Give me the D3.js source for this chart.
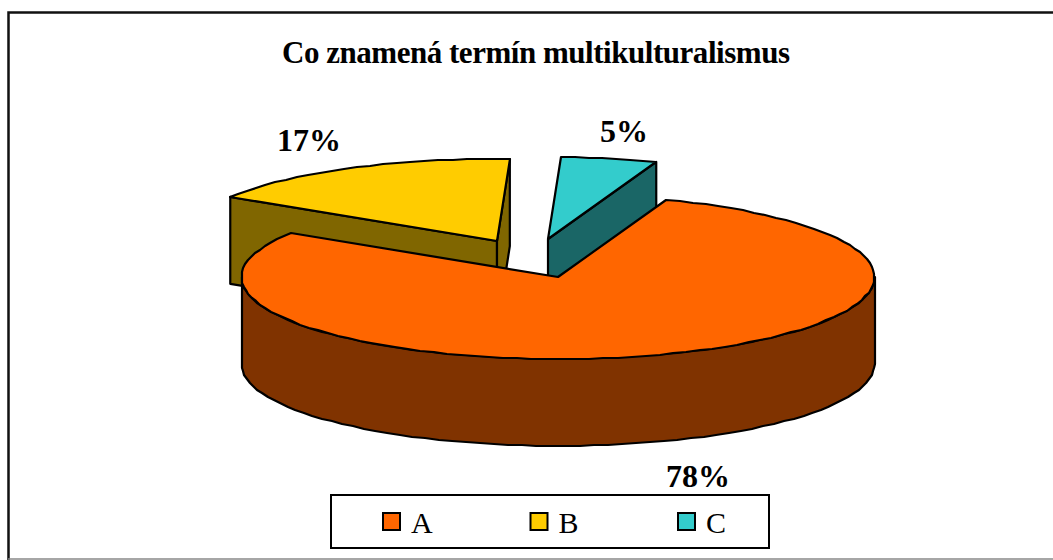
<!DOCTYPE html>
<html><head><meta charset="utf-8">
<style>html,body{margin:0;padding:0;background:#fff}svg{display:block}text{font-family:"Liberation Serif","Times New Roman",serif;fill:#000}</style>
<script src="https://cdn.jsdelivr.net/npm/d3@7/dist/d3.min.js"></script>
</head><body><svg id="c" width="1053" height="560"></svg>
<script>
const chartTitle = "Co znamená termín multikulturalismus";
const categories = ["A", "B", "C"];
const values = [78.49, 16.6, 4.91];
const topColors = ["#FF6600", "#FFCC00", "#33CCCC"];
const sideColors = ["#803300", "#806600", "#1A6666"];

const W = 1053, H = 560;
const svg = d3.select("#c");
const rx = 316.5, ry = 82, depth = 87;
// apex of each exploded slice
const apex = [[558, 277], [497, 241], [548, 239]];
const labelPos = [[666, 487], [277, 151], [600, 142]];

const toRad = d3.scaleLinear().domain([0, 360]).range([0, 2 * Math.PI]);
const slices = d3.pie().sort(null).startAngle(toRad(20)).endAngle(toRad(380))(values);
const fmt = d3.format(".0%");
const total = d3.sum(values);
const line = d3.line();

const rim = (a, i, dy = 0) => [apex[i][0] + rx * Math.sin(a), apex[i][1] - ry * Math.cos(a) + dy];
// coarse, pixel-snapped sampling gives the slightly wavy outline of the original
const arcPts = (a0, a1, i, dy = 0) => {
  const n = Math.max(6, Math.round(Math.abs(a1 - a0) * 22));
  return d3.range(0, n + 1).map(k => rim(a0 + (a1 - a0) * k / n, i, dy).map(Math.round));
};

function drawSlice(s) {
  const i = s.index, [ax, ay] = apex[i];
  const side = sideColors[i], g = svg.append("g");
  const face = pts => g.append("path").attr("d", line(pts) + "Z").attr("fill", side)
    .attr("stroke", "#000").attr("stroke-width", 2.2).attr("stroke-linejoin", "round");
  const quad = (a) => { const p = rim(a, i); return [[ax, ay], p, [p[0], p[1] + depth], [ax, ay + depth]]; };
  // the cut faces that look toward the viewer
  if (i === 1) { face(quad(s.startAngle)); face(quad(s.endAngle)); }
  if (i === 2) { face(quad(s.endAngle)); }
  // front wall of the rim
  if (i === 0) {
    const a0 = toRad(90), a1 = toRad(270);
    face(arcPts(a0, a1, i).concat(arcPts(a0, a1, i, depth).reverse()));
  }
  g.append("path")
    .attr("d", line([[ax, ay]].concat(arcPts(s.startAngle, s.endAngle, i))) + "Z")
    .attr("fill", topColors[i]).attr("stroke", "#000").attr("stroke-width", 2.2).attr("stroke-linejoin", "round");
}
[1, 2, 0].forEach(i => drawSlice(slices[i]));

// outer frame, open on the right where it runs off the page
svg.append("path").attr("d", `M${W},12.5H8.5V${H}`).attr("fill", "none").attr("stroke", "#111").attr("stroke-width", 2.5);
svg.append("line").attr("x1", 8).attr("x2", W).attr("y1", 559).attr("y2", 559).attr("stroke", "#888").attr("stroke-width", 1.5);

svg.append("text").attr("x", 282).attr("y", 63).attr("font-size", 31).attr("font-weight", "bold")
  .attr("textLength", 508).attr("lengthAdjust", "spacing").text(chartTitle);

svg.selectAll("text.pct").data(slices).join("text").attr("class", "pct")
  .attr("x", d => labelPos[d.index][0]).attr("y", d => labelPos[d.index][1])
  .attr("font-size", 32).attr("font-weight", "bold").text(d => fmt(d.value / total));

// legend
svg.append("rect").attr("x", 331).attr("y", 495).attr("width", 438).attr("height", 53)
  .attr("fill", "#fff").attr("stroke", "#000").attr("stroke-width", 2);
const legendX = d3.scalePoint().domain(categories).range([383, 678]);
const lg = svg.selectAll("g.lg").data(categories).join("g").attr("class", "lg")
  .attr("transform", d => `translate(${legendX(d)},513)`);
lg.append("rect").attr("width", 17).attr("height", 17).attr("fill", (d, i) => topColors[i])
  .attr("stroke", "#000").attr("stroke-width", 2);
lg.append("text").attr("x", 28).attr("y", 20).attr("font-size", 30).text(d => d);
</script></body></html>
